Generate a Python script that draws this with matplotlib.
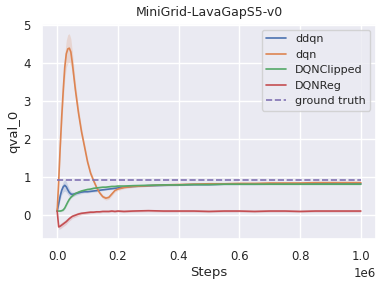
import matplotlib
matplotlib.use('Agg')
import matplotlib.pyplot as plt
import seaborn as sns
import numpy as np

# step grid (in millions of steps)
steps = [0, 0.005, 0.01, 0.015, 0.02, 0.025, 0.03, 0.035, 0.04, 0.045, 0.05,
         0.06, 0.07, 0.08, 0.09, 0.1, 0.11, 0.12, 0.13, 0.14, 0.15, 0.16, 0.17,
         0.18, 0.19, 0.2, 0.22, 0.25, 0.3, 0.35, 0.4, 0.45, 0.5, 0.55, 0.6,
         0.65, 0.7, 0.75, 0.8, 0.85, 0.9, 0.95, 1.0]

ddqn = [0.1, 0.3, 0.5, 0.65, 0.74, 0.78, 0.74, 0.66, 0.59, 0.55, 0.54,
        0.56, 0.58, 0.6, 0.61, 0.61, 0.62, 0.63, 0.64, 0.65, 0.66, 0.67, 0.68,
        0.69, 0.7, 0.71, 0.73, 0.75, 0.77, 0.78, 0.79, 0.8, 0.8, 0.81, 0.81,
        0.81, 0.82, 0.82, 0.82, 0.82, 0.82, 0.82, 0.82]
ddqn_sd = [0.02, 0.08, 0.1, 0.12, 0.14, 0.15, 0.14, 0.12, 0.1, 0.08, 0.06,
           0.05, 0.04, 0.04, 0.03, 0.03, 0.03, 0.03, 0.03, 0.02, 0.02, 0.02, 0.02,
           0.02, 0.02, 0.02, 0.02, 0.02, 0.02, 0.02, 0.02, 0.02, 0.02, 0.02, 0.02,
           0.02, 0.02, 0.02, 0.02, 0.02, 0.02, 0.02, 0.02]

dqn = [0.1, 0.9, 1.8, 2.6, 3.3, 3.9, 4.25, 4.38, 4.4, 4.3, 4.0,
       3.3, 2.7, 2.2, 1.8, 1.4, 1.1, 0.9, 0.72, 0.58, 0.48, 0.44, 0.46,
       0.55, 0.64, 0.68, 0.72, 0.75, 0.77, 0.79, 0.8, 0.81, 0.82, 0.82, 0.83,
       0.83, 0.84, 0.84, 0.84, 0.85, 0.85, 0.85, 0.85]
dqn_sd = [0.02, 0.12, 0.2, 0.25, 0.3, 0.33, 0.36, 0.38, 0.38, 0.35, 0.3,
          0.2, 0.15, 0.12, 0.1, 0.08, 0.07, 0.06, 0.05, 0.05, 0.05, 0.05, 0.05,
          0.05, 0.04, 0.04, 0.03, 0.03, 0.02, 0.02, 0.02, 0.02, 0.02, 0.02, 0.02,
          0.02, 0.02, 0.02, 0.02, 0.02, 0.02, 0.02, 0.02]

clipped = [0.1, 0.1, 0.1, 0.11, 0.13, 0.18, 0.26, 0.34, 0.41, 0.46, 0.5,
           0.56, 0.6, 0.63, 0.65, 0.67, 0.68, 0.7, 0.71, 0.72, 0.73, 0.73, 0.74,
           0.75, 0.75, 0.76, 0.76, 0.77, 0.78, 0.79, 0.79, 0.8, 0.8, 0.81, 0.81,
           0.81, 0.81, 0.81, 0.81, 0.81, 0.81, 0.81, 0.81]
clipped_sd = [0.01, 0.01, 0.02, 0.02, 0.03, 0.03, 0.04, 0.04, 0.04, 0.03, 0.03,
              0.03, 0.02, 0.02, 0.02, 0.02, 0.02, 0.02, 0.02, 0.02, 0.02, 0.02, 0.02,
              0.02, 0.02, 0.02, 0.02, 0.02, 0.02, 0.02, 0.02, 0.02, 0.02, 0.02, 0.02,
              0.02, 0.02, 0.02, 0.02, 0.02, 0.02, 0.02, 0.02]

reg = [0.1, -0.32, -0.3, -0.27, -0.24, -0.21, -0.18, -0.14, -0.1, -0.07, -0.04,
       -0.01, 0.02, 0.04, 0.05, 0.06, 0.07, 0.07, 0.08, 0.08, 0.09, 0.09, 0.09,
       0.1, 0.09, 0.1, 0.09, 0.1, 0.11, 0.1, 0.1, 0.1, 0.09, 0.1, 0.1,
       0.09, 0.1, 0.1, 0.09, 0.1, 0.1, 0.1, 0.1]
reg_sd = [0.02, 0.06, 0.07, 0.07, 0.07, 0.07, 0.07, 0.06, 0.06, 0.06, 0.05,
          0.05, 0.05, 0.04, 0.04, 0.04, 0.04, 0.03, 0.03, 0.03, 0.03, 0.03, 0.03,
          0.03, 0.03, 0.03, 0.03, 0.03, 0.03, 0.03, 0.03, 0.03, 0.03, 0.03, 0.03,
          0.03, 0.03, 0.03, 0.03, 0.03, 0.03, 0.03, 0.03]

ground_truth = 0.92

sns.set_theme(style='darkgrid')
fig = plt.figure(figsize=(3.88, 2.84), dpi=100)
ax = fig.add_axes([42/388, 1 - 239/284, 334/388, 215/284])

x = np.array(steps) * 1e6
series = [('ddqn', ddqn, ddqn_sd), ('dqn', dqn, dqn_sd),
          ('DQNClipped', clipped, clipped_sd), ('DQNReg', reg, reg_sd)]
colors = sns.color_palette()
for i, (name, mean, sd) in enumerate(series):
    mean = np.array(mean)
    sd = np.array(sd)
    ax.plot(x, mean, color=colors[i], lw=1.2, label=name)
    ax.fill_between(x, mean - sd, mean + sd, color=colors[i], alpha=0.2, lw=0)

ax.plot([x[0], x[-1]], [ground_truth, ground_truth], '--', color=colors[4],
        lw=1.2, label='ground truth')

ax.set_title('MiniGrid-LavaGapS5-v0', fontsize=9)
ax.set_xlabel('Steps', fontsize=9.5, labelpad=2)
ax.set_ylabel('qval_0', fontsize=9.5, labelpad=2)
ax.tick_params(labelsize=8.5, pad=2)
ax.xaxis.get_offset_text().set_fontsize(8.5)
ax.legend(loc='upper right', fontsize=8, handlelength=1.8)

fig.savefig('out.png', dpi=100)
